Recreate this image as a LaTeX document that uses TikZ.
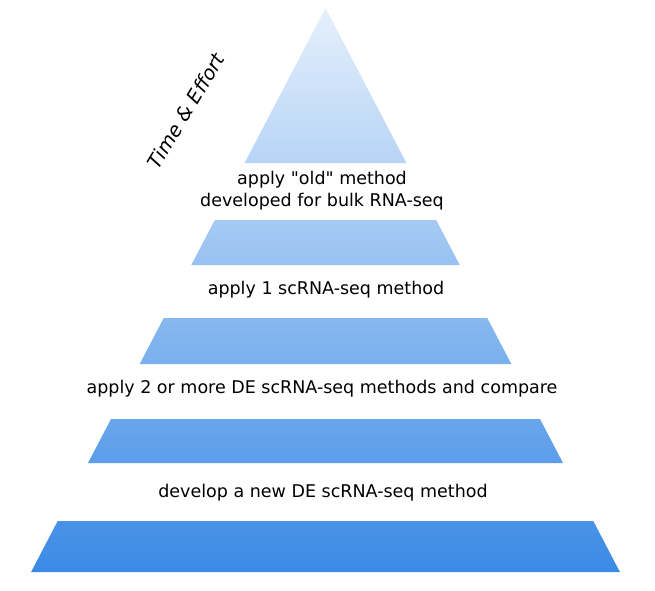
\documentclass[tikz,border=0pt]{standalone}
\usepackage{fontspec}
\setmainfont{DejaVu Sans}
\newfontfamily\obliquefont{DejaVu Sans Oblique}
\definecolor{pyrtop}{RGB}{230,240,252}
\definecolor{pyrbot}{RGB}{58,138,229}
\begin{document}
\begin{tikzpicture}[x=1pt,y=-1pt,
  label/.style={font=\fontsize{17.5}{22}\selectfont, text=black, inner sep=0pt, align=center}]
\useasboundingbox (0,0) rectangle (655,590);
\shade[top color=pyrtop, bottom color=pyrbot]
  (325.5,8) -- (406.4,163) -- (244.6,163) -- cycle
  (214.8,220) -- (436.2,220) -- (459.7,265) -- (191.3,265) -- cycle
  (163.7,318) -- (487.3,318) -- (511.3,364) -- (139.7,364) -- cycle
  (111.0,419) -- (540.0,419) -- (563.0,463) -- (88.0,463) -- cycle
  (57.7,521) -- (593.3,521) -- (619.9,572) -- (31.1,572) -- cycle;
\node[label] (l1) at (322,191) {apply \textquotedbl old\textquotedbl\ method\\developed for bulk RNA-seq};
\node[label] (l2) at (326,290) {apply 1 scRNA-seq method};
\node[label] (l3) at (322,389) {apply 2 or more DE scRNA-seq methods and compare};
\node[label] (l4) at (323,493) {develop a new DE scRNA-seq method};
\node[label, font=\obliquefont\fontsize{19.5}{22}\selectfont, rotate=59] (te) at (186,111) {Time \& Effort};
\end{tikzpicture}
\end{document}
